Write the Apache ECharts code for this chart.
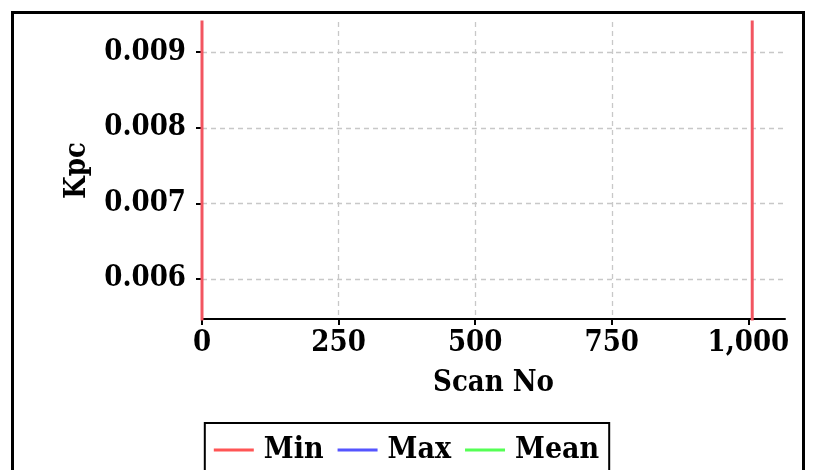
<!DOCTYPE html>
<html>
<head>
<meta charset="utf-8">
<script src="https://cdn.jsdelivr.net/npm/echarts@6/dist/echarts.min.js"></script>
<style>
html,body{margin:0;padding:0;background:#fff;}
#chart{width:813px;height:470px;}
</style>
</head>
<body>
<div id="chart"></div>
<script>
// Data (scan number, Kpc). Vertical jumps at scan 0 and scan ~1007 run off the visible range.
const minSeries = [[0, 0.0050], [0, 0.0100], [1007, 0.0100], [1007, 0.0050]];
const maxSeries = [];
const meanSeries = [];
const seriesNames = ['Min', 'Max', 'Mean'];
const xTicks = [0, 250, 500, 750, 1000];
const yTicks = [0.006, 0.007, 0.008, 0.009];
const xRange = [0, 1067];
const yRange = [0.00547, 0.0094];

const FONT = '"DejaVu Serif Condensed", "DejaVu Serif", serif';
const chart = echarts.init(document.getElementById('chart'), null, {renderer: 'canvas'});
const gridStyle = {color: '#c8c8c8', type: [5, 4], width: 1.3};
chart.setOption({
  animation: false,
  backgroundColor: '#fff',
  graphic: [{
    type: 'rect', silent: true, z: 100,
    shape: {x: 12.5, y: 12.5, width: 791, height: 500},
    style: {fill: 'none', stroke: '#000', lineWidth: 3}
  }],
  grid: {left: 202, right: 28, top: 22, bottom: 151, containLabel: false},
  legend: {
    data: seriesNames,
    left: 'center', top: 423,
    orient: 'horizontal',
    borderColor: '#000', borderWidth: 2,
    padding: [12, 10, 20, 9],
    itemGap: 14, itemWidth: 40, itemHeight: 3, icon: 'rect',
    textStyle: {fontFamily: FONT, fontWeight: 'bold', fontSize: 30, color: '#000', padding: [0, 0, 0, 5]}
  },
  xAxis: {
    type: 'value', min: xRange[0], max: xRange[1],
    name: 'Scan No', nameLocation: 'middle', nameGap: 50,
    nameTextStyle: {fontFamily: FONT, fontWeight: 'bold', fontSize: 29, color: '#000'},
    axisLine: {show: true, lineStyle: {color: '#000', width: 2}},
    axisTick: {show: true, length: 6, lineStyle: {color: '#000', width: 2}, customValues: xTicks},
    axisLabel: {customValues: xTicks, margin: 10, color: '#000', fontFamily: FONT, fontWeight: 'bold', fontSize: 29,
      formatter: v => v.toLocaleString('en-US')},
    splitLine: {show: true, showMinLine: false, showMaxLine: false, lineStyle: gridStyle}
  },
  yAxis: {
    type: 'value', min: yRange[0], max: yRange[1],
    name: 'Kpc', nameLocation: 'middle', nameGap: 110, nameRotate: 90,
    nameTextStyle: {fontFamily: FONT, fontWeight: 'bold', fontSize: 29, color: '#000'},
    axisLine: {show: true, lineStyle: {color: '#000', width: 2}},
    axisTick: {show: true, length: 6, lineStyle: {color: '#000', width: 2}, customValues: yTicks},
    axisLabel: {customValues: yTicks, margin: 16, color: '#000', fontFamily: FONT, fontWeight: 'bold', fontSize: 29,
      formatter: v => v.toFixed(3)},
    splitLine: {show: true, showMinLine: true, showMaxLine: true, lineStyle: gridStyle}
  },
  series: [
    {
      name: 'Max', type: 'line', data: maxSeries, symbol: 'none', z: 3,
      lineStyle: {color: '#5555ff', width: 2}, itemStyle: {color: '#5555ff'}
    },
    {
      name: 'Mean', type: 'line', data: meanSeries, symbol: 'none', z: 3,
      lineStyle: {color: '#55ff55', width: 2}, itemStyle: {color: '#55ff55'}
    },
    {
      name: 'Min', type: 'line', data: minSeries, symbol: 'none', z: 4, clip: true,
      lineStyle: {color: '#f25560', width: 3}, itemStyle: {color: '#ff5555'}
    }
  ]
});
</script>
</body>
</html>
